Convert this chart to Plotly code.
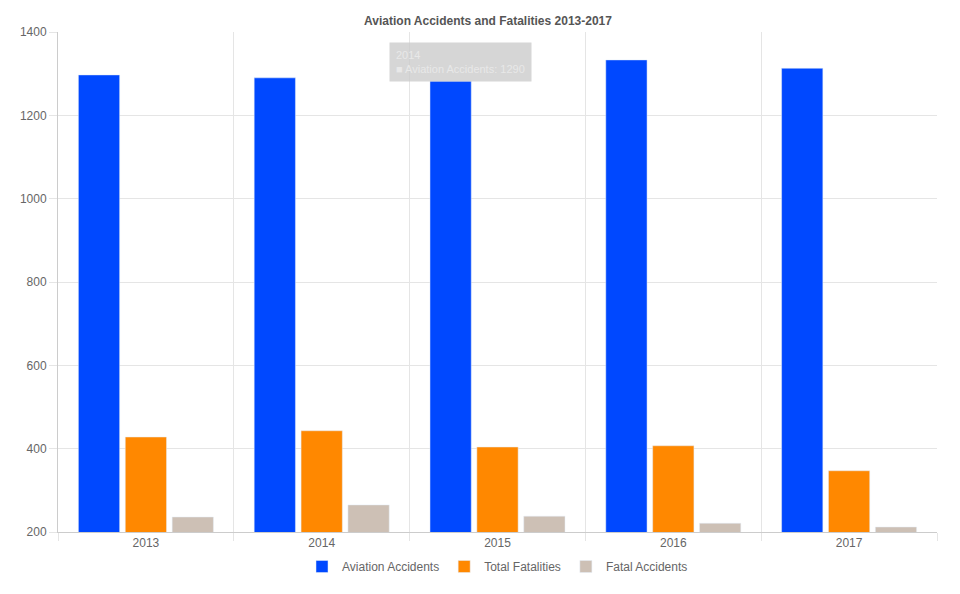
import plotly.graph_objects as go

years = ["2013", "2014", "2015", "2016", "2017"]
accidents = [1297, 1290, 1282, 1333, 1313]
fatalities = [428, 443, 404, 407, 347]
fatal_accidents = [236, 265, 238, 221, 212]

xpos = list(range(len(years)))
fig = go.Figure()
fig.add_bar(x=xpos, y=accidents, name="Aviation Accidents", marker_color="#0048ff")
fig.add_bar(x=xpos, y=fatalities, name="Total Fatalities", marker_color="#ff8800")
fig.add_bar(x=xpos, y=fatal_accidents, name="Fatal Accidents", marker_color="#cdc0b5")

fig.update_layout(
    width=960, height=594, plot_bgcolor="white", paper_bgcolor="white",
    margin=dict(l=36, r=31, t=24, b=70),
    barmode="group", bargap=0.2, bargroupgap=0.12,
    font=dict(family="Arial, Liberation Sans", size=12, color="#666"),
    title=dict(text="<b>Aviation Accidents and Fatalities 2013-2017</b>", x=0.5, y=0.985,
               xanchor="center", font=dict(size=12, color="#555")),
    legend=dict(orientation="h", x=0.5, xanchor="center", y=-0.04, yanchor="top",
                font=dict(size=12, color="#666")),
    xaxis=dict(range=[-0.5, 4.5], tickvals=xpos, ticktext=years, showgrid=False,
               zeroline=False, showline=True, linecolor="#ccc", ticks="",
               minor=dict(tickvals=[-0.5, 0.5, 1.5, 2.5, 3.5, 4.5], showgrid=True,
                          gridcolor="#e5e5e5", ticks="outside", ticklen=8, tickcolor="#e5e5e5")),
    yaxis=dict(range=[200, 1400], dtick=200, showgrid=True, gridcolor="#e5e5e5",
               zeroline=False, showline=True, linecolor="#ccc", ticks="outside",
               ticklen=8, tickcolor="#e5e5e5"),
)
fig.add_annotation(x=1.38, y=1375, xref="x", yref="y", xanchor="left", yanchor="top",
                   text="2014<br>■ Aviation Accidents: 1290", showarrow=False, align="left",
                   bgcolor="rgba(200,200,200,0.75)", font=dict(color="#e8e8e8", size=11),
                   borderpad=6)
fig.write_html("out.html")
